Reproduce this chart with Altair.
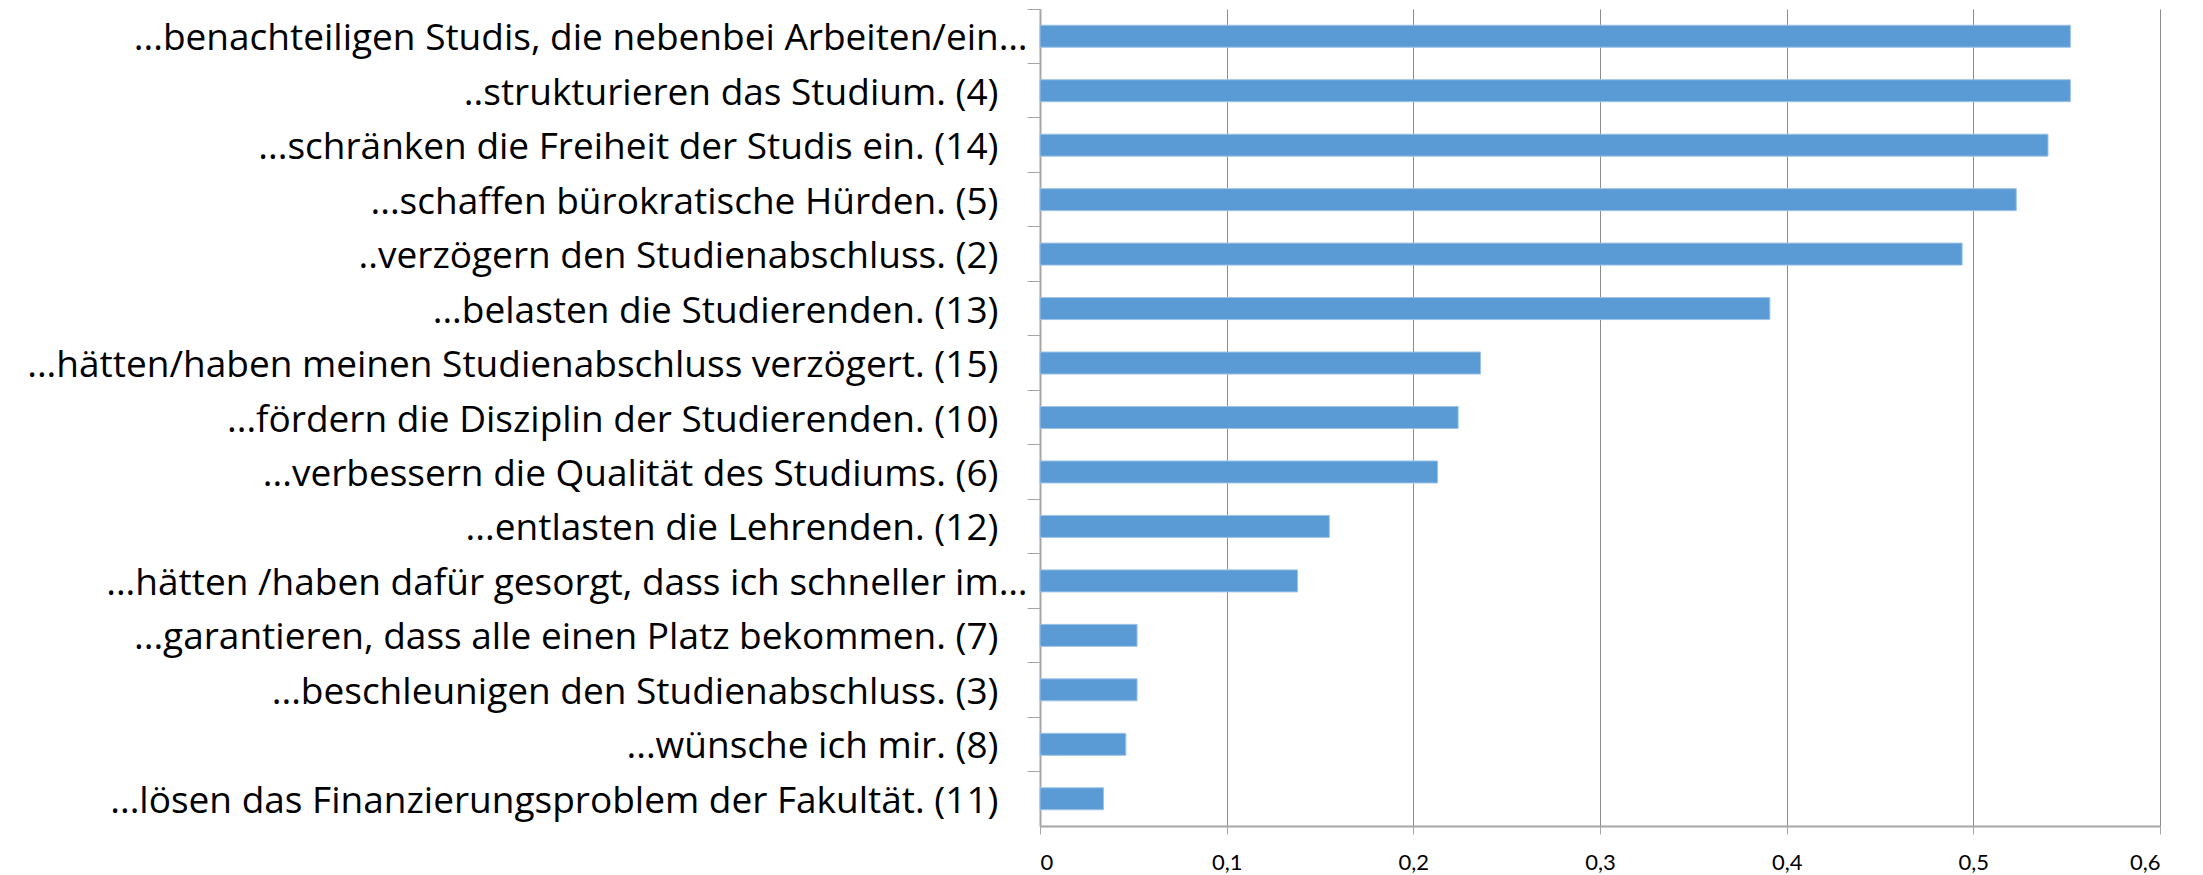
import altair as alt
import pandas as pd

categories = [
    "...benachteiligen Studis, die nebenbei Arbeiten/ein…",
    "..strukturieren das Studium. (4)",
    "...schränken die Freiheit der Studis ein. (14)",
    "...schaffen bürokratische Hürden. (5)",
    "..verzögern den Studienabschluss. (2)",
    "...belasten die Studierenden. (13)",
    "...hätten/haben meinen Studienabschluss verzögert. (15)",
    "...fördern die Disziplin der Studierenden. (10)",
    "...verbessern die Qualität des Studiums. (6)",
    "...entlasten die Lehrenden. (12)",
    "...hätten /haben dafür gesorgt, dass ich schneller im…",
    "...garantieren, dass alle einen Platz bekommen. (7)",
    "...beschleunigen den Studienabschluss. (3)",
    "...wünsche ich mir. (8)",
    "...lösen das Finanzierungsproblem der Fakultät. (11)",
]
values = [0.552, 0.552, 0.540, 0.523, 0.494, 0.391, 0.236, 0.224, 0.213,
          0.155, 0.138, 0.052, 0.052, 0.046, 0.034]
x_ticks = [0, 0.1, 0.2, 0.3, 0.4, 0.5, 0.6]

df = pd.DataFrame({"Aussage": categories, "Anteil": values})

chart = alt.Chart(df).mark_bar(
    color="#5B9BD5", size=22, stroke="#9DC3E6", strokeWidth=1
).encode(
    x=alt.X(
        "Anteil:Q",
        scale=alt.Scale(domain=[0, 0.6], nice=False, zero=True),
        axis=alt.Axis(
            values=x_ticks,
            title=None,
            grid=True,
            gridColor="#8C8C8C",
            gridWidth=1,
            domainColor="#A6A6A6",
            domainWidth=2,
            tickColor="#A6A6A6",
            tickSize=8,
            labelFont="Lato",
            labelFontSize=22,
            labelColor="#000000",
            labelPadding=18,
            labelExpr="replace(format(datum.value, '.1~f'), '.', ',')",
        ),
    ),
    y=alt.Y(
        "Aussage:N",
        sort=categories,
        scale=alt.Scale(paddingInner=0, paddingOuter=0),
        axis=alt.Axis(
            title=None,
            grid=False,
            bandPosition=0,
            domainColor="#A6A6A6",
            domainWidth=2,
            tickColor="#A6A6A6",
            tickSize=13,
            labelFont="Open Sans",
            labelFontSize=37,
            labelColor="#000000",
            labelPadding=alt.condition(
                "indexof(datum.value, '…') >= 0", alt.value(0), alt.value(29)
            ),
            labelLimit=0,
            labelOffset=3,
        ),
    ),
).properties(
    width=1120,
    height=817,
    autosize="none",
    padding={"left": 1032, "top": 1, "right": 30, "bottom": 48},
).configure_view(stroke=None)

chart.save("out.html", embed_options={"renderer": "svg", "actions": False})
